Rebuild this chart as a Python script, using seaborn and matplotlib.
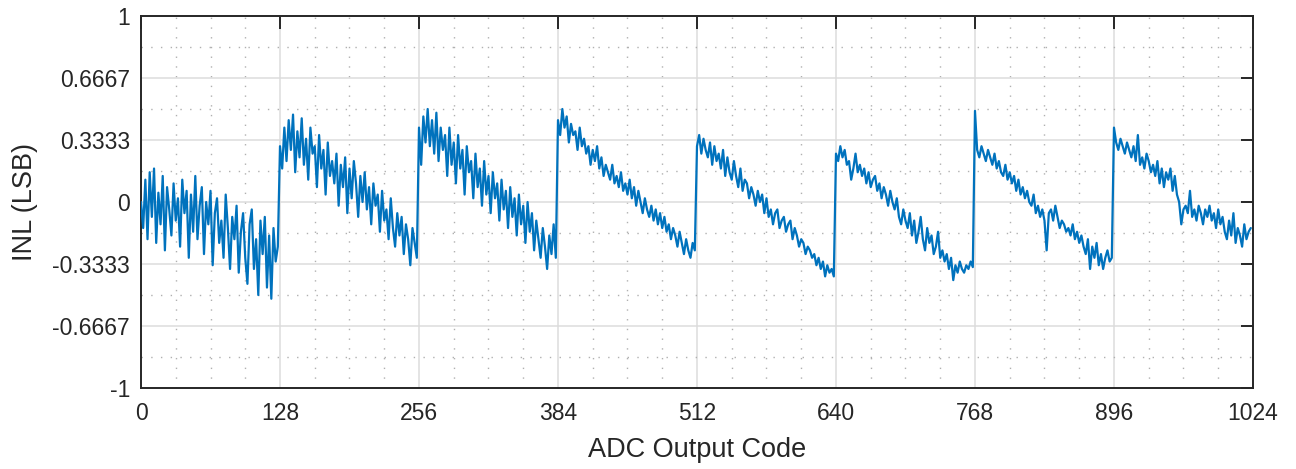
import numpy as np
import pandas as pd
import matplotlib
matplotlib.use("Agg")
import matplotlib.pyplot as plt
import seaborn as sns
from matplotlib.ticker import MultipleLocator


# INL per code, every 2 codes, in 1/100 LSB
SEG_0 = [0, -14, 12, -20, 16, -8, 18, -22, 5, -12, 14, -26, 8, -4, -18, 10,
         -10, 2, -24, 12, -6, 6, -30, 4, -16, 14, -20, -2, 8, -28, 0, -12,
         6, -34, -6, 2, -22, -10, -30, 4, -14, -36, -8, -20, -2, -38, -16, -6,
         -30, -44, -12, -4, -36, -20, -50, -10, -28, -8, -46, -18, -52, -14, -32, -24]
SEG_1 = [30, 18, 40, 22, 44, 28, 47, 16, 38, 24, 45, 20, 34, 12, 40, 26,
         30, 8, 36, 18, 28, 4, 32, 14, 22, 10, 26, -2, 20, 8, 24, -6,
         18, 2, 22, 10, -8, 14, 0, 16, -4, 8, -12, 10, -2, 4, -16, 6,
         -10, -4, -20, 2, -14, -24, -6, -18, -8, -28, -12, -20, -34, -14, -22, -30]
SEG_2 = [40, 20, 46, 32, 50, 30, 44, 26, 48, 22, 40, 28, 36, 14, 40, 20,
         32, 10, 36, 18, 28, 4, 30, 16, 22, 2, 26, 8, 18, -2, 22, 4,
         14, -6, 16, 2, 10, -10, 12, -4, 6, -14, 8, -8, 2, -18, 4, -12,
         -2, -22, 0, -16, -6, -26, -10, -20, -30, -14, -24, -36, -18, -28, -12, -30]
SEG_3 = [44, 36, 50, 40, 46, 32, 42, 36, 38, 28, 40, 30, 34, 26, 30, 20,
         28, 22, 30, 18, 24, 14, 20, 16, 12, 20, 10, 14, 8, 16, 6, 10,
         4, 12, 2, 8, -2, 6, 0, -6, 2, -4, -8, -2, -10, -4, -12, -6,
         -14, -8, -16, -12, -20, -14, -18, -24, -16, -22, -28, -20, -26, -30, -22, -26]
SEG_4 = [30, 36, 26, 34, 28, 24, 32, 20, 30, 22, 26, 18, 28, 14, 24, 16,
         12, 22, 14, 8, 18, 6, 12, 10, 2, 8, 4, -2, 6, 0, 4, -6,
         2, -8, -4, -12, -6, -4, -14, -10, -8, -16, -12, -10, -20, -14, -18, -24,
         -20, -22, -28, -24, -26, -30, -28, -34, -30, -36, -32, -40, -34, -38, -36, -40]
SEG_5 = [26, 22, 30, 24, 28, 20, 22, 12, 18, 26, 16, 20, 14, 18, 10, 16,
         8, 12, 14, 6, 10, 2, 8, 4, -2, 6, 0, -4, 2, -8, -12, -4,
         -10, -14, -6, -18, -10, -22, -16, -8, -20, -26, -14, -22, -18, -28, -24, -16,
         -30, -26, -32, -28, -36, -30, -42, -34, -38, -32, -36, -38, -34, -36, -32, -35]
SEG_6 = [49, 28, 24, 30, 26, 22, 28, 24, 20, 26, 18, 22, 16, 14, 20, 12,
         16, 10, 14, 6, 12, 4, 8, 2, 6, 0, -2, 4, -6, -2, -8, -4,
         -10, -26, -6, -4, -10, -2, -8, -14, -10, -12, -16, -14, -18, -12, -20, -16,
         -22, -18, -24, -28, -20, -36, -24, -30, -22, -34, -28, -36, -30, -26, -32, -30]
SEG_7 = [40, 32, 28, 34, 30, 26, 32, 28, 24, 30, 22, 36, 20, 24, 18, 26,
         22, 16, 20, 14, 22, 10, 18, 8, 16, 12, 18, 6, 14, 4, 0, -12,
         -4, -2, -6, 6, -8, -4, -10, -2, -6, -12, -4, -8, -2, -10, -6, -14,
         -4, -12, -8, -16, -20, -10, -18, -6, -22, -14, -18, -24, -12, -20, -16, -14]

X_TICKS = [0, 128, 256, 384, 512, 640, 768, 896, 1024]
Y_TICKS = [-1, -2 / 3, -1 / 3, 0, 1 / 3, 2 / 3, 1]
Y_TICK_LABELS = ["-1", "-0.6667", "-0.3333", "0", "0.3333", "0.6667", "1"]

LINE_COLOR = "#0072BD"


inl = np.concatenate([SEG_0, SEG_1, SEG_2, SEG_3, SEG_4, SEG_5, SEG_6, SEG_7]) / 100.0
codes = np.arange(len(inl)) * 2
df = pd.DataFrame({"code": codes, "inl": inl})

sns.set_theme(style="white")
plt.rcParams["font.family"] = ["Liberation Sans", "DejaVu Sans"]

fig = plt.figure(figsize=(12.96, 4.69), dpi=100)
ax = fig.add_axes([0.1088, 0.1727, 0.8580, 0.7932])

sns.lineplot(data=df, x="code", y="inl", ax=ax, color=LINE_COLOR,
             linewidth=1.6, estimator=None, zorder=3)

ax.set_xlim(0, 1024)
ax.set_ylim(-1, 1)
ax.set_xticks(X_TICKS)
ax.set_yticks(Y_TICKS)
ax.set_yticklabels(Y_TICK_LABELS)
ax.xaxis.set_minor_locator(MultipleLocator(32))
ax.yaxis.set_minor_locator(MultipleLocator(1 / 6))

ax.grid(which="major", color="#DCDCDC", linewidth=1.1, linestyle="-", zorder=0)
ax.grid(which="minor", color="#B0B0B0", linewidth=1.0, linestyle=(0, (1, 6)), zorder=0)
ax.set_axisbelow(True)

ax.tick_params(which="major", direction="in", length=9, width=1.4,
               top=True, right=True, labelsize=16.5, colors="#262626", pad=10)
ax.tick_params(axis="y", which="major", pad=8)
ax.tick_params(which="minor", length=0)
for spine in ax.spines.values():
    spine.set_color("#262626")
    spine.set_linewidth(1.4)

ax.set_xlabel("ADC Output Code", fontsize=19.5, color="#262626", labelpad=9)
ax.set_ylabel("INL (LSB)", fontsize=19.5, color="#262626", labelpad=10)

fig.savefig("out.png", dpi=100)
